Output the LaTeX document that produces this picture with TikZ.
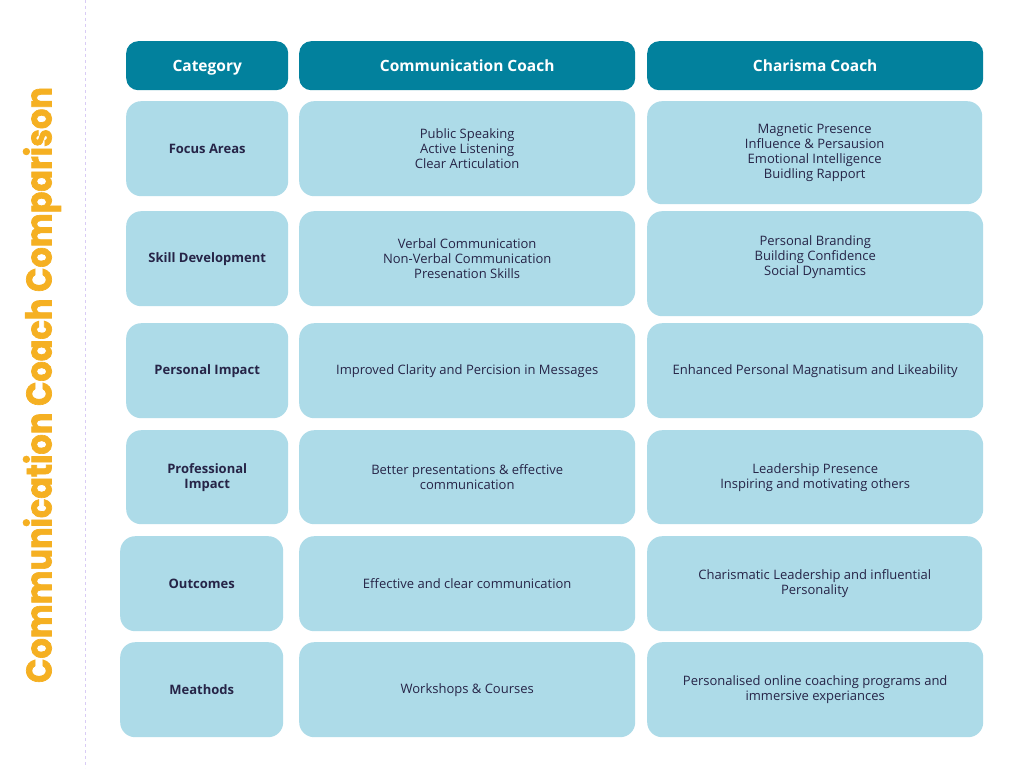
\documentclass[tikz,border=0pt]{standalone}
\usepackage{fontspec}
\setmainfont{Open Sans}
\newfontfamily\titlefont[BoldFeatures={FakeBold=2}]{Poppins}
\definecolor{hdrc}{HTML}{02819D}
\definecolor{cellc}{HTML}{ADDBE8}
\definecolor{txtc}{HTML}{262447}
\definecolor{ttlc}{HTML}{F5B022}
\definecolor{linec}{HTML}{D9CCF5}
\tikzset{
  hdr/.style={fill=hdrc, rounded corners=12pt, anchor=north west, inner sep=0pt, text=white, font=\fontsize{15.5}{18}\selectfont\bfseries, align=center, text height=12pt, text depth=1pt},
  cellbox/.style={fill=cellc, rounded corners=15pt, anchor=north west, inner sep=0pt, text=txtc, font=\fontsize{13}{15}\selectfont, align=center},
  lbl/.style={cellbox, font=\fontsize{13}{15}\selectfont\bfseries},
}
\begin{document}
\begin{tikzpicture}[x=1pt,y=-1pt]
\useasboundingbox[fill=white] (0,0) rectangle (1024,768);
\coordinate (ltop) at (85,0);
\coordinate (lbot) at (85,768);
\draw[linec, dashed, line width=0.8pt] (ltop) -- (lbot);
\node[rotate=90, text=ttlc, font=\titlefont\fontsize{35.5}{40}\selectfont\bfseries] (title) at (42,385) {\scalebox{0.9}[1]{Communication Coach Comparison}};
% header
\node[hdr, minimum width=162, minimum height=49] (h1) at (126,41) {Category};
\node[hdr, minimum width=336, minimum height=49] (h2) at (299,41) {Communication Coach};
\node[hdr, minimum width=336, minimum height=49] (h3) at (647,41) {Charisma Coach};
% row 1
\node[lbl, minimum width=162, minimum height=95] (l1) at (126,101) {Focus Areas};
\node[cellbox, minimum width=336, minimum height=95] (a1) at (299,101) {Public Speaking\\Active Listening\\Clear Articulation};
\node[cellbox, minimum width=335, minimum height=103] (b1) at (647,101) {Magnetic Presence\\Influence \& Persausion\\Emotional Intelligence\\Buidling Rapport};
% row 2
\node[lbl, minimum width=162, minimum height=95] (l2) at (126,211) {Skill Development};
\node[cellbox, minimum width=336, minimum height=95] (a2) at (299,211) {Verbal Communication\\Non-Verbal Communication\\Presenation Skills};
\node[cellbox, minimum width=336, minimum height=105] (b2) at (647,211) {Personal Branding\\Building Confidence\\Social Dynamtics\\[2pt]};
% row 3
\node[lbl, minimum width=162, minimum height=95] (l3) at (126,323) {Personal Impact};
\node[cellbox, minimum width=336, minimum height=95] (a3) at (299,323) {Improved Clarity and Percision in Messages};
\node[cellbox, minimum width=336, minimum height=95] (b3) at (647,323) {Enhanced Personal Magnatisum and Likeability};
% row 4
\node[lbl, minimum width=162, minimum height=94] (l4) at (126,430) {Professional\\Impact};
\node[cellbox, minimum width=336, minimum height=94] (a4) at (299,430) {Better presentations \& effective\\communication};
\node[cellbox, minimum width=336, minimum height=94] (b4) at (647,430) {Leadership Presence\\Inspiring and motivating others};
% row 5
\node[lbl, minimum width=163, minimum height=95] (l5) at (120,536) {Outcomes};
\node[cellbox, minimum width=336, minimum height=95] (a5) at (299,536) {Effective and clear communication};
\node[cellbox, minimum width=335, minimum height=95] (b5) at (647,536) {Charismatic Leadership and influential\\Personality};
% row 6
\node[lbl, minimum width=163, minimum height=95] (l6) at (120,642) {Meathods};
\node[cellbox, minimum width=336, minimum height=95] (a6) at (299,642) {Workshops \& Courses};
\node[cellbox, minimum width=336, minimum height=95] (b6) at (647,642) {Personalised online coaching programs and\\immersive experiances};
\end{tikzpicture}
\end{document}
